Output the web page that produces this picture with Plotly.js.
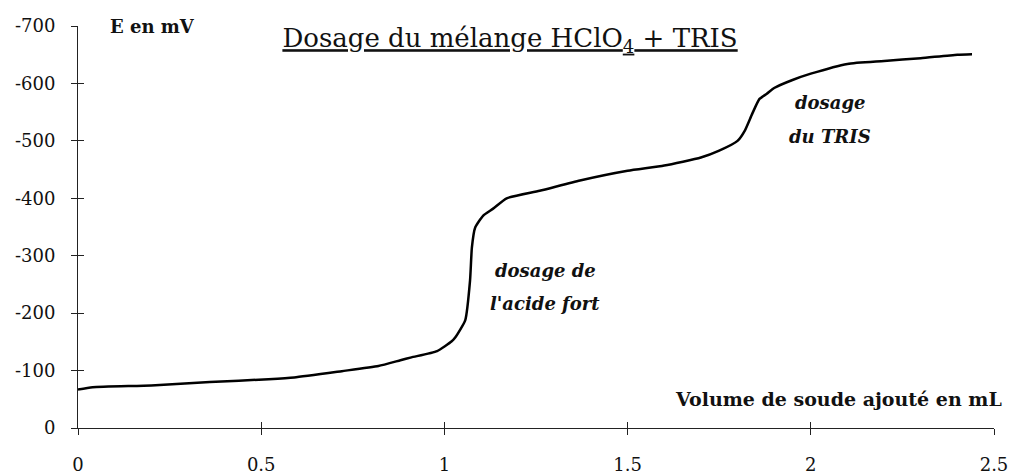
<!DOCTYPE html>
<html>
<head>
<meta charset="utf-8">
<script src="https://cdn.plot.ly/plotly-3.0.1.min.js"></script>
<style>html,body{margin:0;padding:0;background:#fff;}#chart{width:1014px;height:476px;}</style>
</head>
<body>
<div id="chart"></div>
<script>
// Volume of NaOH added (mL)
const volume = [0, 0.04, 0.2, 0.36, 0.52, 0.59, 0.72, 0.82, 0.88, 0.91, 0.98, 1.02, 1.03, 1.057, 1.07, 1.075, 1.084, 1.106, 1.133, 1.17, 1.26, 1.37, 1.5, 1.6, 1.7, 1.75, 1.8, 1.82, 1.84, 1.86, 1.88, 1.9, 1.95, 2.0, 2.1, 2.2, 2.3, 2.4, 2.44];
// Potential E (mV)
const potential = [-67, -71, -74, -80, -85, -88, -99, -108, -118, -123, -134, -151, -158, -188, -257, -314, -349, -370, -382, -400, -413, -431, -448, -457, -471, -483, -500, -518, -547, -573, -582, -592, -606, -617, -634, -639, -644, -650, -651];

const xTicks = [0, 0.5, 1, 1.5, 2, 2.5];
const xTickText = ['0', '0.5', '1', '1.5', '2', '2.5'];
const yTicks = [0, -100, -200, -300, -400, -500, -600, -700];
const yTickText = ['0', '-100', '-200', '-300', '-400', '-500', '-600', '-700'];

const serif = 'DejaVu Serif';

const trace = {
  x: volume, y: potential, type: 'scatter', mode: 'lines',
  line: {color: '#000', width: 2.5, shape: 'spline', smoothing: 0.5},
  hoverinfo: 'skip', showlegend: false
};
const ghost = {
  x: volume, y: potential, xaxis: 'x2', yaxis: 'y2', type: 'scatter', mode: 'lines',
  line: {color: 'rgba(0,0,0,0)', width: 0}, hoverinfo: 'skip', showlegend: false
};

const axisCommon = {
  showgrid: false, zeroline: false, showline: true, linecolor: '#222', linewidth: 1,
  tickcolor: '#222', tickwidth: 1, ticklen: 6, tickmode: 'array',
  tickfont: {family: serif, size: 18, color: '#111'}
};

const labelFont = {family: serif, size: 18, color: '#111'};

const layout = {
  width: 1014, height: 476,
  font: {family: serif},
  margin: {l: 78, r: 20, t: 26, b: 48},
  paper_bgcolor: '#fff', plot_bgcolor: '#fff',
  title: {
    text: '<u>Dosage du mélange HClO<sub>4</sub> + TRIS</u>',
    font: {family: serif, size: 26, color: '#111'},
    x: 0.503, xanchor: 'center', y: 0.92, yanchor: 'middle', yref: 'container'
  },
  xaxis: Object.assign({}, axisCommon, {
    range: [0, 2.5], tickvals: xTicks, ticktext: xTickText, ticks: 'outside',
    ticklabelstandoff: 14
  }),
  yaxis: Object.assign({}, axisCommon, {
    range: [0, -700], tickvals: yTicks, ticktext: yTickText, ticks: 'outside',
    ticklabelstandoff: 12
  }),
  xaxis2: Object.assign({}, axisCommon, {
    range: [0, 2.5], tickvals: xTicks, ticks: 'inside', showticklabels: false,
    overlaying: 'x', anchor: 'y2'
  }),
  yaxis2: Object.assign({}, axisCommon, {
    range: [0, -700], tickvals: yTicks, ticks: 'inside', showticklabels: false,
    overlaying: 'y', anchor: 'x2'
  }),
  annotations: [
    {text: '<b>E en mV</b>', xref: 'paper', yref: 'paper', x: 0.033, y: 1.0,
     xanchor: 'left', yanchor: 'middle', showarrow: false,
     font: {family: serif, size: 18, color: '#111'}},
    {text: '<b>Volume de soude ajouté en mL</b>', xref: 'paper', yref: 'paper', x: 1.011, y: 0.072,
     xanchor: 'right', yanchor: 'middle', showarrow: false,
     font: {family: serif, size: 19, color: '#111'}},
    {text: '<b><i>dosage de</i></b>', xref: 'x', yref: 'y', x: 1.275, y: -274,
     xanchor: 'center', yanchor: 'middle', showarrow: false, font: labelFont},
    {text: '<b><i>l\'acide fort</i></b>', xref: 'x', yref: 'y', x: 1.275, y: -217,
     xanchor: 'center', yanchor: 'middle', showarrow: false, font: labelFont},
    {text: '<b><i>dosage</i></b>', xref: 'x', yref: 'y', x: 2.052, y: -566,
     xanchor: 'center', yanchor: 'middle', showarrow: false, font: labelFont},
    {text: '<b><i>du TRIS</i></b>', xref: 'x', yref: 'y', x: 2.052, y: -507,
     xanchor: 'center', yanchor: 'middle', showarrow: false, font: labelFont}
  ]
};

Plotly.newPlot('chart', [trace, ghost], layout, {displayModeBar: false, staticPlot: true});
</script>
</body>
</html>
